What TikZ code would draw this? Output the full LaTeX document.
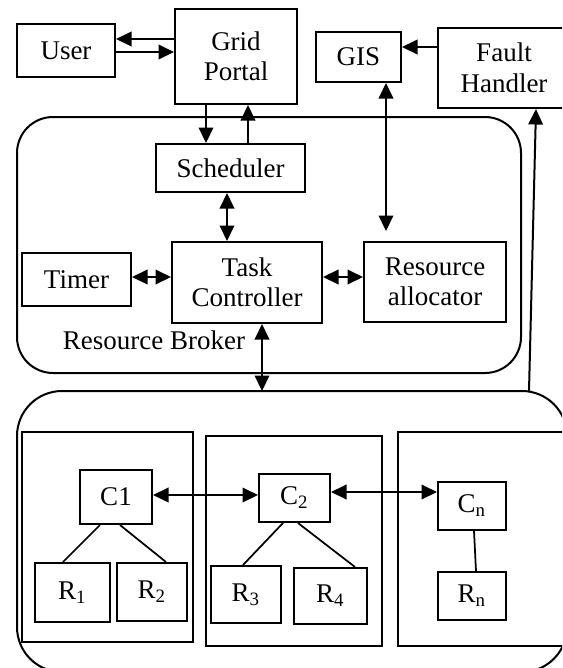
\documentclass[tikz,border=0pt]{standalone}
\usepackage{fontspec}
\setmainfont{Liberation Serif}
\usetikzlibrary{arrows.meta}

\begin{document}
\begin{tikzpicture}[x=0.4pt,y=-0.4pt,line width=0.8pt,
    box/.style={draw,align=center,inner sep=0pt,font=\fontsize{10.8}{12.2}\selectfont},
    sz/.style 2 args={minimum width=#1*0.4pt,minimum height=#2*0.4pt},
    arr/.style={-{Triangle[length=6.2pt,width=5.8pt]}},
    darr/.style={{Triangle[length=6.2pt,width=5.8pt]}-{Triangle[length=6.2pt,width=5.8pt]}},
    link/.style={line width=0.7pt}]
    \useasboundingbox (0,0) rectangle (562,668);
    \clip (0,0) rectangle (562,668);

    \node[box,sz={98}{53}] (user) at (66,50.5) {User};
    \node[box,sz={122}{95}] (grid) at (236,56.5) {Grid\\Portal};
    \node[box,sz={85}{50}] (gis) at (358.5,57) {GIS};
    \node[box,sz={132}{80}] (fault) at (504,68) {Fault\\Handler};

    \draw[rounded corners=14.4pt] (17,117) rectangle (521,373);
    \node[box,sz={149}{48}] (sched) at (230.5,168) {Scheduler};
    \node[box,sz={150}{81}] (tc) at (247,282.5) {Task\\Controller};
    \node[box,sz={109}{53}] (timer) at (76.5,279.5) {Timer};
    \node[box,sz={142}{80}] (ra) at (435,282) {Resource\\allocator};
    \node[font=\fontsize{10.8}{12.2}\selectfont] (rb) at (154,340) {Resource Broker};

    \draw[rounded corners=18pt] (17,391) rectangle (567,672);
    \coordinate (net) at (262,391);
    \coordinate (netr) at (529,391);
    \draw (22,432) rectangle (193,642);
    \draw (206,436) rectangle (382,646);
    \draw (398,432) rectangle (590,646);

    \node[box,sz={72}{54}] (c1) at (116,497) {C1};
    \node[box,sz={71}{48}] (c2) at (294.5,498) {C\textsubscript{2}};
    \node[box,sz={68}{48}] (cn) at (472,506) {C\textsubscript{n}};
    \node[box,sz={75}{59}] (r1) at (72.5,592.5) {R\textsubscript{1}};
    \node[box,sz={70}{58}] (r2) at (152,592) {R\textsubscript{2}};
    \node[box,sz={70}{57}] (r3) at (246,594.5) {R\textsubscript{3}};
    \node[box,sz={73}{56}] (r4) at (330.5,596) {R\textsubscript{4}};
    \node[box,sz={68}{48}] (rn) at (472,596) {R\textsubscript{n}};

    \draw[arr] (grid.west |- 0,39) -- (user.east |- 0,39);
    \draw[arr] (user.east |- 0,52) -- (grid.west |- 0,52);
    \draw[arr] (fault.west |- 0,47) -- (gis.east |- 0,47);
    \draw[arr] (grid.south -| 206,0) -- (sched.north -| 206,0);
    \draw[arr] (sched.north -| 248,0) -- (grid.south -| 248,0);
    \draw[darr] (sched.south -| 227,0) -- (tc.north -| 227,0);
    \draw[darr,shorten >=4pt] (gis.south -| 386,0) -- (ra.north -| 386,0);
    \draw[darr] (timer.east |- 0,277) -- (tc.west |- 0,277);
    \draw[darr] (tc.east |- 0,277) -- (ra.west |- 0,277);
    \draw[darr] (tc.south -| net) -- (net);
    \draw[arr] (netr) -- (fault.south -| 536,0);
    \draw[darr] (c1.east |- 0,495) -- (c2.west |- 0,495);
    \draw[darr] (c2.east |- 0,492) -- (cn.west |- 0,492);

    \draw[link] (c1.south -| 100,0) -- (r1.north -| 63,0);
    \draw[link] (c1.south -| 120,0) -- (r2.north -| 166,0);
    \draw[link] (c2.south -| 283,0) -- (r3.north -| 243,0);
    \draw[link] (c2.south -| 298,0) -- (r4.north -| 355,0);
    \draw[link] (cn.south -| 474,0) -- (rn.north -| 476,0);
\end{tikzpicture}
\end{document}
